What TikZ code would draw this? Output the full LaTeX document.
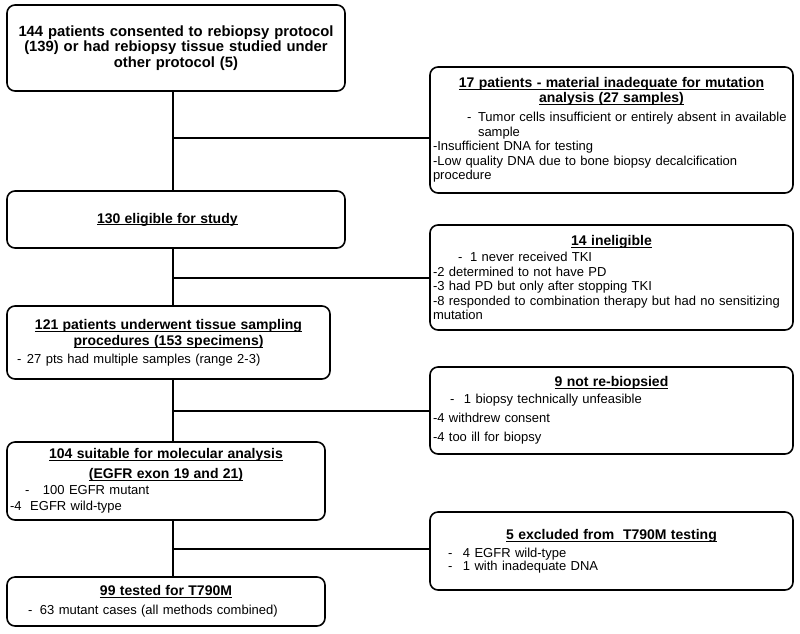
\documentclass[tikz,border=0pt]{standalone}
\usepackage{fontspec}
\setmainfont{Liberation Sans}
\newcommand\ulin[1]{\setbox0\hbox{#1}\rlap{\rule[-2.3pt]{\wd0}{0.9pt}}\box0}
\newcommand\ttl[1]{\noindent\makebox[\hsize][c]{\fontsize{14}{14.5}\selectfont\bfseries\ulin{#1}}}
\newcommand\ttlat[2]{\noindent\hspace*{#1}{\fontsize{14}{14.5}\selectfont\bfseries\ulin{#2}}}
\newcommand\itm[3]{\noindent\makebox[0pt][l]{\hspace*{#1}-}\hspace*{#2}#3}
\begin{document}
\begin{tikzpicture}[x=1pt,y=-1pt,
  box/.style={draw, line width=1.6pt, rounded corners=8pt, inner xsep=3pt, inner ysep=0pt,
    align=left, font=\fontsize{13}{14.5}\selectfont},
  conn/.style={line width=1.6pt}]
\fill[white] (0,0) rectangle (800,633);
\useasboundingbox (0,0) rectangle (800,633);

\node[box, align=center, font=\fontsize{14.8}{15.5}\selectfont\bfseries,
  minimum width=338pt, minimum height=86pt, text width=332pt] (B1) at (176,48)
  {144 patients consented to rebiopsy protocol\\[0pt]
   (139) or had rebiopsy tissue studied under\\[0pt]
   other protocol (5)};

\node[box, minimum width=363pt, minimum height=126pt, text width=357pt] (R1) at (611.5,130)
  {\ttl{17 patients - material inadequate for mutation}\\[0.5pt]
   \ttl{analysis (27 samples)}\\[4.5pt]
   \itm{34pt}{45pt}{Tumor cells insufficient or entirely absent in available}\\
   \hspace*{45pt}sample\\
   -Insufficient DNA for testing\\
   -Low quality DNA due to bone biopsy decalcification\\
   procedure};

\node[box, minimum width=338pt, minimum height=57pt, text width=332pt] (B2) at (176,219.5)
  {\ttlat{87pt}{130 eligible for study}};

\node[box, minimum width=363pt, minimum height=105pt, text width=357pt] (R2) at (611.5,277.5)
  {\ttl{14 ineligible}\\[1.5pt]
   \itm{25pt}{37pt}{1 never received TKI}\\
   -2 determined to not have PD\\
   -3 had PD but only after stopping TKI\\
   -8 responded to combination therapy but had no sensitizing\\
   mutation};

\node[box, minimum width=323pt, minimum height=73pt, text width=317pt] (B3) at (168.5,342.5)
  {\ttl{121 patients underwent tissue sampling}\\[1.5pt]
   \ttl{procedures (153 specimens)}\\[3.5pt]
   \itm{7pt}{17pt}{27 pts had multiple samples (range 2-3)}};

\node[box, minimum width=363pt, minimum height=87pt, text width=357pt] (R3) at (611.5,410.5)
  {\ttl{9 not re-biopsied}\\[2.5pt]
   \itm{17pt}{31pt}{1 biopsy technically unfeasible}\\[4.5pt]
   -4 withdrew consent\\[4.5pt]
   -4 too ill for biopsy};

\node[box, minimum width=318pt, minimum height=78pt, text width=312pt] (B4) at (166,481)
  {\ttl{104 suitable for molecular analysis}\\[5.5pt]
   \ttl{(EGFR exon 19 and 21)}\\[1.5pt]
   \itm{15pt}{33pt}{100 EGFR mutant}\\[1.5pt]
   -4\ \ EGFR wild-type};

\node[box, minimum width=363pt, minimum height=78pt, text width=357pt] (R4) at (611.5,551)
  {\ttl{5 excluded from\ \ T790M testing}\\[3.5pt]
   \itm{15pt}{30pt}{4 EGFR wild-type}\\[-1.5pt]
   \itm{15pt}{30pt}{1 with inadequate DNA}};

\node[box, minimum width=318pt, minimum height=49pt, text width=312pt] (B5) at (166,601.5)
  {\ttl{99 tested for T790M}\\[4.5pt]
   \itm{18pt}{30pt}{63 mutant cases (all methods combined)}};

\coordinate (sp) at (173,0);
\draw[conn] (B1.south -| sp) -- (B2.north -| sp);
\draw[conn] (B2.south -| sp) -- (B3.north -| sp);
\draw[conn] (B3.south -| sp) -- (B4.north -| sp);
\draw[conn] (B4.south -| sp) -- (B5.north -| sp);
\coordinate (j1) at (173,138);
\coordinate (j2) at (173,278);
\coordinate (j3) at (173,411);
\coordinate (j4) at (173,549);
\draw[conn] (j1) -- (j1 -| R1.west);
\draw[conn] (j2) -- (j2 -| R2.west);
\draw[conn] (j3) -- (j3 -| R3.west);
\draw[conn] (j4) -- (j4 -| R4.west);
\end{tikzpicture}
\end{document}
